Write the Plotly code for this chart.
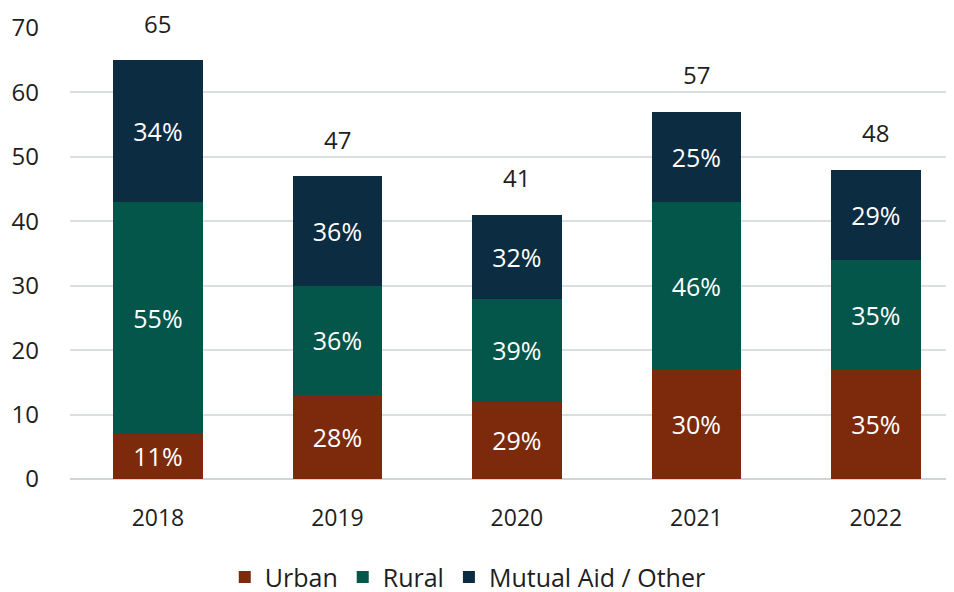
import plotly.graph_objects as go

years = ["2018", "2019", "2020", "2021", "2022"]
urban = [7, 13, 12, 17, 17]
rural = [36, 17, 16, 26, 17]
mutual = [22, 17, 13, 14, 14]
totals = [u + r + m for u, r, m in zip(urban, rural, mutual)]

series = [
    ("Urban", urban, "#7D2A0C"),
    ("Rural", rural, "#04554A"),
    ("Mutual Aid / Other", mutual, "#0C2C42"),
]

FONT = "Open Sans"
TXT = "#1E1E1E"

fig = go.Figure()
for name, vals, color in series:
    pct = [f"{round(v / t * 100)}%" for v, t in zip(vals, totals)]
    fig.add_trace(go.Bar(
        x=years, y=vals, name=name, marker=dict(color=color, line=dict(width=0)),
        text=pct, textposition="inside", insidetextanchor="middle",
        textangle=0, constraintext="none",
        textfont=dict(color="white", size=25, family=FONT),
        width=0.5, hoverinfo="skip",
    ))

for i, t in enumerate(totals):
    fig.add_annotation(x=i, y=t, xref="x", yref="y", text=str(t), showarrow=False,
                       yanchor="middle", yshift=37,
                       font=dict(size=24, color=TXT, family=FONT))

fig.update_layout(
    barmode="stack",
    width=954, height=592,
    margin=dict(l=62, r=12, t=20, b=121, autoexpand=False),
    paper_bgcolor="white", plot_bgcolor="white",
    font=dict(family=FONT, size=24, color=TXT),
    legend=dict(orientation="h", x=0.452, xanchor="center", y=-0.218, yanchor="middle",
                font=dict(size=25, color=TXT), itemwidth=30,
                traceorder="normal", itemclick=False),
    xaxis=dict(type="category", range=[-0.49, 4.413], showgrid=False, showline=False,
               ticks="", tickfont=dict(size=23), automargin=False, ticklabelstandoff=23),
    yaxis=dict(range=[0, 70], dtick=10, showgrid=True, gridcolor="#D9DFDF", gridwidth=1.5,
               zeroline=True, zerolinecolor="#D0D6D6", zerolinewidth=1.5,
               showline=False, ticks="", tickfont=dict(size=24), ticklabelstandoff=30,
               automargin=False),
    showlegend=True,
)

fig.write_html("out.html")
